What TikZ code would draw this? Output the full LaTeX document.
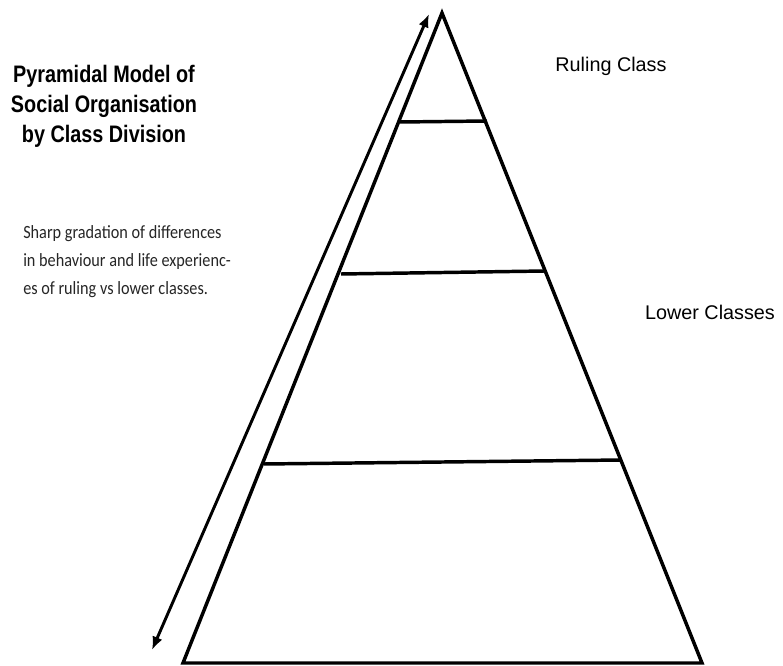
\documentclass[tikz,border=0pt]{standalone}
\usepackage{fontspec}
\setmainfont{Liberation Sans}
\newfontfamily\titlefont[FakeStretch=0.83]{Liberation Sans}
\newfontfamily\bodyfont[FakeStretch=0.87]{Carlito}
\usetikzlibrary{arrows.meta}
\begin{document}
\begin{tikzpicture}[x=0.75pt,y=-0.75pt,
  edge/.style={line width=2.6pt,line join=miter},
  level/.style={line width=2.6pt},
  updown/.style={line width=2.2pt,{Latex[length=10pt,width=8pt]}-{Latex[length=10pt,width=8pt]}},
  title/.style={inner sep=0pt,align=center,font=\titlefont\bfseries\fontsize{17.9pt}{22.5pt}\selectfont},
  body/.style={inner sep=0pt,align=left,text=black!85,font=\bodyfont\fontsize{14pt}{21pt}\selectfont},
  label/.style={inner sep=0pt,font=\fontsize{14.85pt}{18pt}\selectfont}]
\useasboundingbox (0,0) rectangle (783,666);
% pyramid
\coordinate (apex) at (442,13);
\coordinate (bl) at (183,663);
\coordinate (br) at (702,663);
\draw[edge] (apex) -- (bl) -- (br) -- cycle;
% levels
\coordinate (l1a) at (400,122); \coordinate (l1b) at (487,121);
\coordinate (l2a) at (341,274); \coordinate (l2b) at (545,271);
\coordinate (l3a) at (264,464); \coordinate (l3b) at (622,460);
\draw[level] (l1a) -- (l1b);
\draw[level] (l2a) -- (l2b);
\draw[level] (l3a) -- (l3b);
% arrow
\coordinate (top) at (429,14);
\coordinate (bot) at (152,650);
\draw[updown] (bot) -- (top);
% texts
\node[title,anchor=north] (ttl) at (104,65) {Pyramidal Model of\\Social Organisation\\by Class Division};
\node[body,anchor=north west] (desc) at (23,225) {Sharp gradation of differences\\in behaviour and life experienc-\\es of ruling vs lower classes.};
\node[label,anchor=base] (ruling) at (611,72) {Ruling Class};
\node[label,anchor=base] (lower) at (710,320) {Lower Classes};
\end{tikzpicture}
\end{document}
